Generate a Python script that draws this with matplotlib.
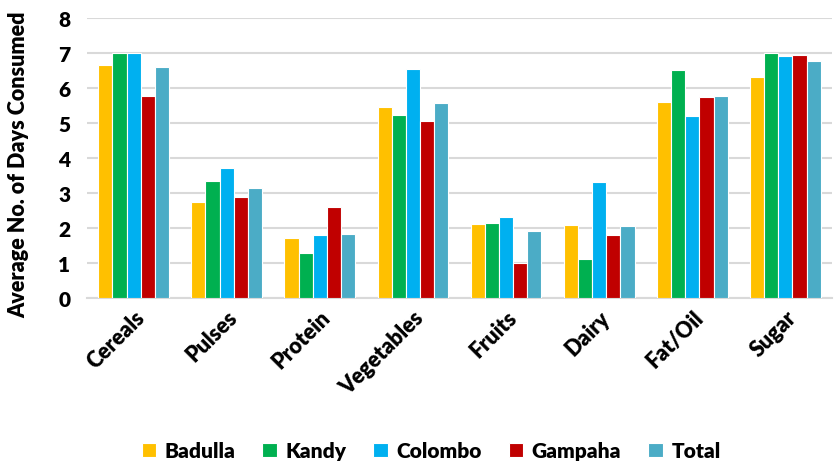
import numpy as np
import matplotlib.pyplot as plt

plt.rcParams['font.family'] = ['Lato', 'DejaVu Sans']
plt.rcParams['font.weight'] = 'heavy'

categories = ['Cereals', 'Pulses', 'Protein', 'Vegetables', 'Fruits', 'Dairy', 'Fat/Oil', 'Sugar']
series = ['Badulla', 'Kandy', 'Colombo', 'Gampaha', 'Total']
colors = ['#FFC000', '#00B050', '#00B0F0', '#C00000', '#4BACC6']

badulla = [6.64, 2.74, 1.70, 5.44, 2.10, 2.07, 5.59, 6.30]
kandy = [7.00, 3.34, 1.28, 5.23, 2.13, 1.10, 6.51, 7.00]
colombo = [7.00, 3.70, 1.79, 6.53, 2.31, 3.31, 5.20, 6.90]
gampaha = [5.76, 2.88, 2.58, 5.05, 0.99, 1.79, 5.73, 6.94]
total = [6.60, 3.14, 1.83, 5.55, 1.90, 2.06, 5.75, 6.77]
values = [badulla, kandy, colombo, gampaha, total]

fig = plt.figure(figsize=(8.37, 4.64), dpi=100)
ax = fig.add_axes([0.104, 0.356, 0.89, 0.604])

x = np.arange(len(categories))
w = 0.152
for i, (name, vals, c) in enumerate(zip(series, values, colors)):
    ax.bar(x + (i - 2) * w, vals, w, color=c, edgecolor='white', linewidth=0.8,
           label=name, zorder=3)

ax.set_xlim(-0.5, len(categories) - 0.5)
ax.set_ylim(0, 8)
ax.set_yticks(range(0, 9))
ax.yaxis.grid(True, color='#D9D9D9', linewidth=1.5, zorder=0)
for s in ['top', 'right', 'left']:
    ax.spines[s].set_visible(False)
ax.spines['bottom'].set_color('#D9D9D9')
ax.spines['bottom'].set_linewidth(1.5)
ax.tick_params(axis='both', length=0, labelsize=15)
ax.tick_params(axis='y', pad=12)
ax.tick_params(axis='x', pad=6)
ax.set_xticks(x)
ax.set_xticklabels(categories, rotation=45, ha='right', rotation_mode='anchor',
                   fontsize=15.5, fontweight='heavy')
for lab in ax.get_yticklabels():
    lab.set_fontweight('heavy')
ax.set_ylabel('Average No. of Days Consumed', fontsize=15.5, fontweight='heavy')
ax.yaxis.set_label_coords(-0.078, 0.48)

fig.legend(loc='lower center', ncol=5, frameon=False,
           bbox_to_anchor=(0.515, -0.035), handlelength=0.7, handleheight=0.7,
           columnspacing=1.3, handletextpad=0.4, prop={'weight': 'heavy', 'size': 15})

fig.savefig('out.png', dpi=100)
